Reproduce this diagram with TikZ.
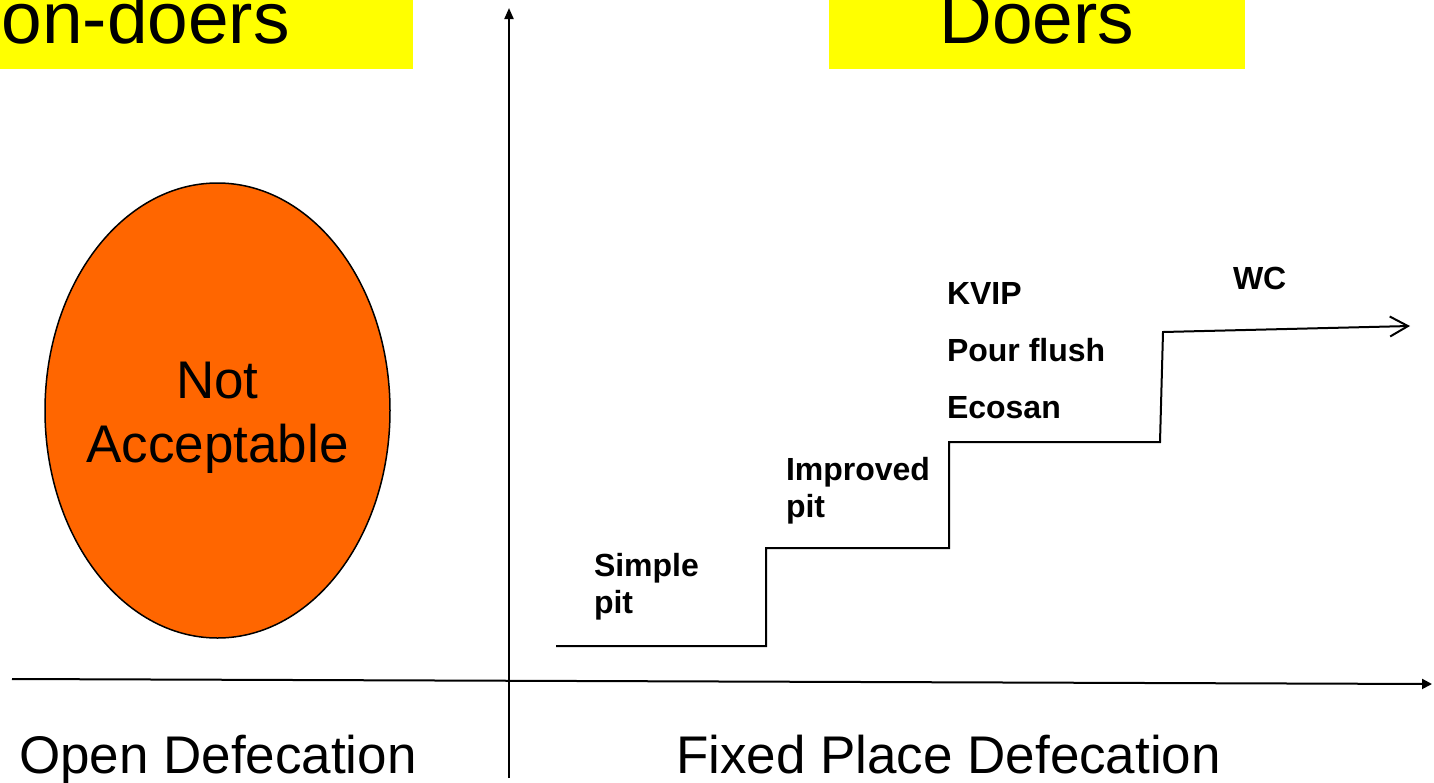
\documentclass[tikz,border=0pt]{standalone}
\usepackage{fontspec}
\setmainfont{Liberation Sans}
\usetikzlibrary{arrows.meta,shapes.geometric}
\definecolor{bandyellow}{HTML}{FFFF00}
\definecolor{oforange}{HTML}{FF6600}

\begin{document}
\begin{tikzpicture}[x=1pt, y=-1pt, line width=2pt,
  band/.style = {fill=bandyellow, draw=none},
  head/.style = {inner sep=0, font=\fontsize{73}{80}\selectfont},
  big/.style = {inner sep=0, font=\fontsize{53}{64}\selectfont},
  stage/.style = {inner sep=0, align=left, font=\bfseries\fontsize{32}{37}\selectfont}]
\useasboundingbox (0,0) rectangle (1434,782);
\clip (0,0) rectangle (1434,782);

% headers
\fill[band] (-10,-10) rectangle (413,69);
\fill[band] (829,-10) rectangle (1245,69);
\node[head, anchor=base west] (nondoers) at (-52,43) {Non-doers};
\node[head, anchor=base] (doers) at (1037,43) {Doers};

% axes
\coordinate (yfoot) at (509,778);
\coordinate (ytop) at (509,8);
\coordinate (xleft) at (12,679);
\coordinate (xright) at (1432,684);
\draw[-{Triangle[length=11pt,width=9pt]}] (yfoot) -- (ytop);
\draw[-{Triangle[length=10pt,width=10pt]}] (xleft) -- (xright);

% open defecation
\node[ellipse, draw, line width=1.5pt, fill=oforange, inner sep=0,
  minimum width=345pt, minimum height=455pt] (notok) at (217.5,410.5) {};
\node[big, align=center, anchor=base] (notoktext) at (217.5,462) {Not\\Acceptable};

% steps
\coordinate (a0) at (556,646);
\coordinate (a1) at (766,646);
\coordinate (a2) at (766,548);
\coordinate (b2) at (949,548);
\coordinate (b3) at (949,442);
\coordinate (c3) at (1160,442);
\coordinate (c4) at (1163,332);
\coordinate (d4) at (1410,326);
\draw[-{Straight Barb[length=18pt,width=20pt]}] (a0) -- (a1) -- (a2) -- (b2) -- (b3) -- (c3) -- (c4) -- (d4);

\node[stage, anchor=base west] (simple) at (593,613) {Simple\\pit};
\node[stage, anchor=base west] (improved) at (785,517) {Improved\\pit};
\node[stage, anchor=base west] (kvip) at (946,418) {KVIP\\[20pt]Pour flush\\[20pt]Ecosan};
\node[stage, anchor=base west] (wc) at (1232,289) {WC};

\node[big, anchor=base west] (open) at (18,773) {Open Defecation};
\node[big, anchor=base west] (fixed) at (675,773) {Fixed Place Defecation};
\end{tikzpicture}
\end{document}
